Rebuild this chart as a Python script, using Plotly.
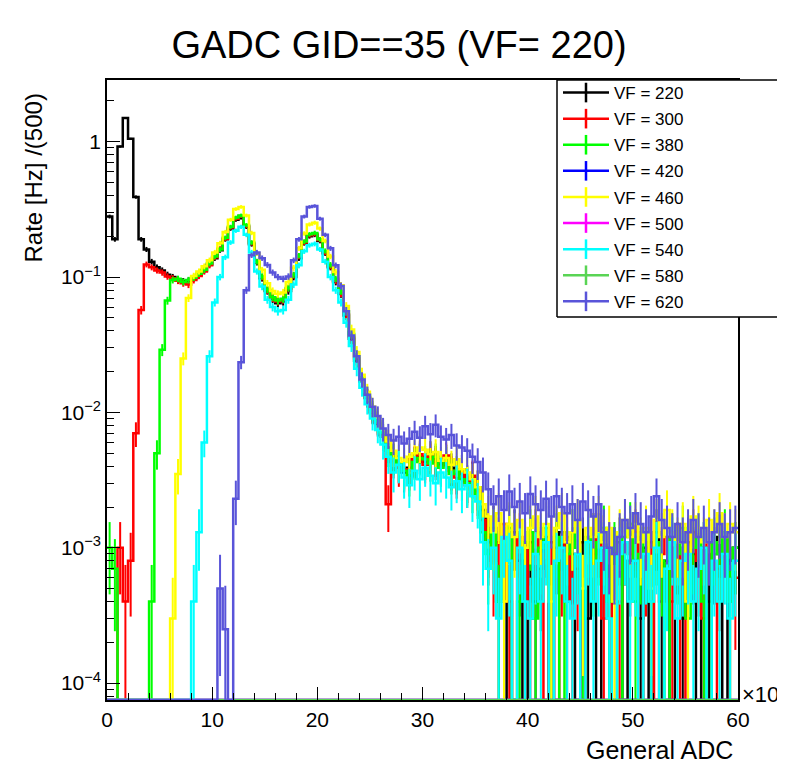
import math
import plotly.graph_objects as go

# ---------------- data (rate in Hz per 500-ADC bin; x in units of 10^3 ADC) ----------------
BIN_WIDTH = 0.5
N_BINS = 120
bin_edges = [i * BIN_WIDTH for i in range(N_BINS + 1)]
bin_centers = [(i + 0.5) * BIN_WIDTH for i in range(N_BINS)]

vf_labels = ["VF = 220", "VF = 300", "VF = 380", "VF = 420", "VF = 460",
             "VF = 500", "VF = 540", "VF = 580", "VF = 620"]

rate_vf220 = [
    0.28, 0.19, 0.92, 1.5, 1.05, 0.39, 0.19, 0.16, 0.13,
    0.118, 0.112, 0.104, 0.1, 0.096, 0.093, 0.094, 0.098, 0.104, 0.112, 0.124,
    0.138, 0.158, 0.19, 0.228, 0.265, 0.275, 0.235, 0.175, 0.128, 0.098,
    0.079, 0.069, 0.064, 0.066, 0.079, 0.1, 0.138, 0.178, 0.2, 0.205,
    0.185, 0.15, 0.118, 0.092, 0.075, 0.052, 0.035, 0.024, 0.017, 0.0128, 0.0099, 0.0082,
    0.0068, 0.0055, 0.0047, 0.0041, 0.0036, 0.0039, 0.0044, 0.0047, 0.0043, 0.0049,
    0.0045, 0.0041, 0.0046, 0.0039, 0.0035, 0.0038, 0.0031, 0.0033, 0.0028, 0.0019,
    0.0011, 0.0014, 0.0004, 0.0012, 0.0, 0.0013, 0.0008, 0.0, 0.0011, 0.0004,
    0.0007, 0.0012, 0.0, 0.0010, 0.0013, 0.0004, 0.0009, 0.0, 0.0011, 0.0003,
    0.0012, 0.0, 0.0010, 0.0004, 0.0009, 0.0011, 0.0, 0.0008, 0.0012, 0.0003,
    0.0010, 0.0, 0.0013, 0.0004, 0.0008, 0.0, 0.0010, 0.0003, 0.0011, 0.0009,
    0.0, 0.0010, 0.0004, 0.0009, 0.0012, 0.0, 0.0008, 0.0010,
]

rate_vf300 = [
    0.0, 0.0, 0.001, 0.0004, 0.0008, 0.007, 0.057,
    0.124, 0.118, 0.112, 0.108, 0.101, 0.098, 0.094, 0.09, 0.088, 0.095, 0.102, 0.11, 0.122,
    0.14, 0.162, 0.192, 0.232, 0.27, 0.282, 0.238, 0.178, 0.13, 0.1,
    0.08, 0.07, 0.066, 0.068, 0.082, 0.103, 0.142, 0.18, 0.204, 0.208,
    0.188, 0.152, 0.12, 0.094, 0.076, 0.053, 0.036, 0.025, 0.0172, 0.013, 0.0101, 0.0084,
    0.0066, 0.0021, 0.0044, 0.0039, 0.0038, 0.0037, 0.0045, 0.0049, 0.0041, 0.0047,
    0.0043, 0.0040, 0.0048, 0.0037, 0.0033, 0.0036, 0.0029, 0.0034, 0.0026, 0.0016,
    0.0012, 0.0008, 0.0011, 0.0015, 0.0004, 0.0, 0.0012, 0.0010, 0.0003, 0.0013,
    0.0009, 0.0, 0.0011, 0.0, 0.0008, 0.0012, 0.0004, 0.0007, 0.0, 0.0011,
    0.0009, 0.0012, 0.0003, 0.0010, 0.0, 0.0004, 0.0011, 0.0009, 0.0013, 0.0,
    0.0008, 0.0011, 0.0, 0.0009, 0.0012, 0.0004, 0.0010, 0.0, 0.0009, 0.0013,
    0.0008, 0.0003, 0.0011, 0.0, 0.0007, 0.0012, 0.0004, 0.0006,
]

rate_vf380 = [
    0.001, 0.0007, 0.0, 0.0, 0.0, 0.0, 0.0, 0.0, 0.0004, 0.005, 0.029, 0.067, 0.095,
    0.097, 0.092, 0.095, 0.099, 0.106, 0.113, 0.126,
    0.142, 0.16, 0.195, 0.235, 0.275, 0.285, 0.242, 0.18, 0.13, 0.101,
    0.081, 0.071, 0.067, 0.069, 0.083, 0.104, 0.144, 0.183, 0.207, 0.212,
    0.19, 0.156, 0.123, 0.097, 0.079, 0.056, 0.038, 0.026, 0.018, 0.0135, 0.0104, 0.0086,
    0.0071, 0.0052, 0.0046, 0.0042, 0.0037, 0.0034, 0.0043, 0.0046, 0.0045, 0.0042,
    0.0047, 0.0039, 0.0044, 0.0035, 0.0037, 0.0032, 0.0030, 0.0027, 0.0025, 0.0013,
    0.0009, 0.0013, 0.0004, 0.0011, 0.0014, 0.0, 0.0004, 0.0011, 0.0013, 0.0003,
    0.0010, 0.0014, 0.0004, 0.0012, 0.0, 0.0009, 0.0013, 0.0010, 0.0003, 0.0012,
    0.0008, 0.0011, 0.0014, 0.0004, 0.0010, 0.0, 0.0012, 0.0015, 0.0004, 0.0009,
    0.0013, 0.0004, 0.0011, 0.0008, 0.0, 0.0012, 0.0009, 0.0014, 0.0003, 0.0010,
    0.0012, 0.0004, 0.0, 0.0011, 0.0009, 0.0013, 0.0004, 0.0010,
]

rate_vf420 = [0.0] * N_BINS   # empty histogram

rate_vf460 = [
    0.0, 0.0, 0.0, 0.0, 0.0, 0.0, 0.0, 0.0, 0.0, 0.0, 0.0, 0.0,
    0.0003, 0.0035, 0.025, 0.07, 0.102, 0.11, 0.12, 0.133,
    0.152, 0.178, 0.215, 0.265, 0.318, 0.33, 0.285, 0.212, 0.15, 0.113,
    0.09, 0.079, 0.075, 0.077, 0.092, 0.117, 0.163, 0.21, 0.245, 0.252,
    0.228, 0.185, 0.142, 0.109, 0.087, 0.061, 0.041, 0.028, 0.019, 0.0142, 0.011, 0.0091,
    0.0074, 0.0061, 0.0052, 0.0046, 0.0043, 0.0047, 0.0050, 0.0055, 0.0053, 0.0049,
    0.0051, 0.0044, 0.0046, 0.0041, 0.0045, 0.0038, 0.0036, 0.0032, 0.0028, 0.0021,
    0.0017, 0.0013, 0.0018, 0.0004, 0.0015, 0.0012, 0.0016, 0.0010, 0.0014, 0.0017,
    0.0012, 0.0015, 0.0004, 0.0014, 0.0018, 0.0011, 0.0013, 0.0016, 0.0005, 0.0014,
    0.0012, 0.0017, 0.0011, 0.0014, 0.0004, 0.0013, 0.0016, 0.0012, 0.0015, 0.0011,
    0.0014, 0.0005, 0.0016, 0.0012, 0.0019, 0.0013, 0.0011, 0.0015, 0.0004, 0.0017,
    0.0014, 0.0011, 0.0016, 0.0013, 0.0018, 0.0012, 0.0015, 0.0013,
]

rate_vf500 = [0.0] * N_BINS   # empty histogram

rate_vf540 = [
    0.0, 0.0, 0.0, 0.0, 0.0, 0.0, 0.0, 0.0, 0.0, 0.0, 0.0, 0.0, 0.0, 0.0, 0.0, 0.0,
    0.0004, 0.0013, 0.006, 0.026,
    0.065, 0.1, 0.14, 0.18, 0.22, 0.235, 0.205, 0.152, 0.11, 0.085,
    0.068, 0.06, 0.056, 0.057, 0.068, 0.088, 0.122, 0.155, 0.172, 0.176,
    0.16, 0.13, 0.1, 0.08, 0.065, 0.046, 0.031, 0.021, 0.0152, 0.0115, 0.009, 0.0074,
    0.0058, 0.0047, 0.0036, 0.0041, 0.0033, 0.0029, 0.0037, 0.0032, 0.0039, 0.0034,
    0.0030, 0.0036, 0.0033, 0.0028, 0.0031, 0.0027, 0.0029, 0.0024, 0.0022, 0.0011,
    0.0007, 0.0010, 0.0003, 0.0012, 0.0008, 0.0, 0.0010, 0.0004, 0.0003, 0.0009,
    0.0004, 0.0011, 0.0, 0.0008, 0.0010, 0.0004, 0.0003, 0.0009, 0.0, 0.0011,
    0.0004, 0.0008, 0.0010, 0.0003, 0.0, 0.0009, 0.0011, 0.0004, 0.0008, 0.0,
    0.0009, 0.0004, 0.0010, 0.0, 0.0007, 0.0011, 0.0003, 0.0008, 0.0009, 0.0004,
    0.0007, 0.0010, 0.0, 0.0008, 0.0004, 0.0009, 0.0003, 0.0008,
]

rate_vf580 = [0.0] * N_BINS   # empty histogram

rate_vf620 = [
    0.0, 0.0, 0.0, 0.0, 0.0, 0.0, 0.0, 0.0, 0.0, 0.0,
    0.0, 0.0, 0.0, 0.0, 0.0, 0.0, 0.0, 0.0, 0.0, 0.0, 0.0,
    0.0005, 0.00025, 0.0, 0.0023, 0.0235, 0.08, 0.145, 0.152, 0.138,
    0.123, 0.108, 0.1, 0.097, 0.101, 0.133, 0.19, 0.28, 0.33, 0.335,
    0.27, 0.205, 0.163, 0.122, 0.086, 0.056, 0.037, 0.026, 0.0175, 0.0135, 0.011, 0.0094,
    0.0076, 0.0068, 0.0062, 0.0066, 0.0059, 0.0064, 0.0072, 0.0065, 0.0079, 0.0069,
    0.0081, 0.0066, 0.0063, 0.0068, 0.0057, 0.0055, 0.0052, 0.0047, 0.0043, 0.0036,
    0.0027, 0.0021, 0.0024, 0.0019, 0.0026, 0.0020, 0.0022, 0.0018, 0.0025, 0.0021,
    0.0019, 0.0023, 0.0017, 0.0024, 0.0020, 0.0018, 0.0021, 0.0016, 0.0022, 0.0019,
    0.0017, 0.0021, 0.0013, 0.0010, 0.0009, 0.0012, 0.0016, 0.0014, 0.0018, 0.0015,
    0.0013, 0.0017, 0.0024, 0.0016, 0.0014, 0.0012, 0.0015, 0.0011, 0.0013, 0.0016,
    0.0012, 0.0014, 0.0011, 0.0013, 0.0015, 0.0012, 0.0013, 0.0014,
]

series = [rate_vf220, rate_vf300, rate_vf380, rate_vf420, rate_vf460,
          rate_vf500, rate_vf540, rate_vf580, rate_vf620]
for s in series:
    assert len(s) == N_BINS, len(s)

# ROOT colour indices 1..9
colors = ["#000000", "#ff0000", "#00ff00", "#0000ff", "#ffff00",
          "#ff00ff", "#00ffff", "#59d454", "#5954d9"]

RATE_PER_COUNT = 3e-4          # Poisson error scale
Y_LOG_MIN, Y_LOG_MAX = -4.125, 0.456
Y_FLOOR = 10 ** Y_LOG_MIN      # empty bins are drawn on the frame bottom (ROOT style)

# ---------------- geometry (page pixels; the html body adds an 8 px margin) ----------------
OFF = 8
W, H = 785 - 2 * OFF, 769 - 2 * OFF      # figure fits inside the page body
PL, PR, PT, PB = 107 - OFF, 738 - OFF, 80 - OFF, 700 - OFF   # plot frame in figure px
PW, PH = PR - PL, PB - PT


def px(xp):   # page x -> paper x
    return (xp - OFF - PL) / PW


def py(yp):   # page y -> paper y
    return (PB - (yp - OFF)) / PH


fig = go.Figure()
for lab, vals, col in zip(vf_labels, series, colors):
    ys = [v if v > 0 else Y_FLOOR for v in vals]
    fig.add_trace(go.Scatter(
        x=bin_edges, y=ys + [ys[-1]], mode="lines", line_shape="hv",
        line=dict(color=col, width=2.5), showlegend=False, hoverinfo="skip"))
    ex, ey, ep, em = [], [], [], []
    for c, v in zip(bin_centers, vals):
        if v > 0:
            e = math.sqrt(v * RATE_PER_COUNT)
            ex.append(c); ey.append(v); ep.append(e); em.append(min(e, v * 0.9999))
    if ex:
        fig.add_trace(go.Scatter(
            x=ex, y=ey, mode="markers", marker=dict(size=0.1, color=col),
            error_y=dict(type="data", array=ep, arrayminus=em, width=0,
                         thickness=2, color=col),
            showlegend=False, hoverinfo="skip"))

# legend entries (line + vertical error-bar cross)
for i, (lab, col) in enumerate(zip(vf_labels, colors)):
    fig.add_trace(go.Scatter(
        x=[None], y=[None], mode="lines+markers", name=lab,
        line=dict(color=col, width=2.5),
        marker=dict(symbol="line-ns", size=14, line=dict(color=col, width=2.5)),
        legendgroup=f"g{i}"))

FONT = "Liberation Sans, Arial, Helvetica, sans-serif"

minor_y = []
for d in range(-5, 1):
    for k in range(2, 10):
        minor_y.append(k * 10 ** d)

LEG_L, LEG_T, LEG_B, LEG_R = px(557), 1.0, py(317), px(800)

fig.update_layout(
    width=W, height=H,
    margin=dict(l=PL, r=W - PR, t=PT, b=H - PB, autoexpand=False),
    paper_bgcolor="white", plot_bgcolor="white",
    font=dict(family=FONT, color="black"),
    title=dict(text="GADC GID==35 (VF= 220)", x=(399 - OFF) / W, xanchor="center",
               y=1 - (45 - OFF) / H, yanchor="middle", yref="container",
               font=dict(size=38, family=FONT, color="black")),
    showlegend=True,
    legend=dict(x=px(558), y=py(75), xanchor="left", yanchor="top",
                bgcolor="rgba(0,0,0,0)", borderwidth=0,
                font=dict(size=17, family=FONT, color="black"),
                tracegroupgap=1, itemwidth=46),
    xaxis=dict(range=[0, 60], tickmode="array", tickvals=[0, 10, 20, 30, 40, 50, 60],
               ticks="inside", ticklen=13, tickwidth=1, tickcolor="black",
               showline=True, linecolor="black", linewidth=1.5, mirror=True,
               showgrid=False, zeroline=False,
               tickfont=dict(size=21, family=FONT, color="black"),
               minor=dict(tickmode="array", tickvals=[v for v in range(0, 61, 2) if v % 10],
                          ticks="inside", ticklen=7, tickcolor="black", showgrid=False)),
    yaxis=dict(type="log", range=[Y_LOG_MIN, Y_LOG_MAX], tickmode="array",
               tickvals=[1e-4, 1e-3, 1e-2, 1e-1, 1],
               ticktext=["10<sup>−4</sup>", "10<sup>−3</sup>", "10<sup>−2</sup>",
                         "10<sup>−1</sup>", "1"],
               ticks="inside", ticklen=13, tickwidth=1, tickcolor="black",
               showline=True, linecolor="black", linewidth=1.5, mirror=True,
               showgrid=False, zeroline=False,
               tickfont=dict(size=21, family=FONT, color="black"),
               minor=dict(tickmode="array", tickvals=minor_y,
                          ticks="inside", ticklen=7, tickcolor="black", showgrid=False)),
    shapes=[
        dict(type="rect", xref="paper", yref="paper",
             x0=LEG_L, x1=LEG_R, y0=LEG_B, y1=LEG_T,
             fillcolor="white", line=dict(width=0), layer="above"),
        dict(type="line", xref="paper", yref="paper", x0=LEG_L, x1=LEG_R, y0=LEG_T, y1=LEG_T,
             line=dict(color="black", width=1.5), layer="above"),
        dict(type="line", xref="paper", yref="paper", x0=LEG_L, x1=LEG_R, y0=LEG_B, y1=LEG_B,
             line=dict(color="black", width=1.5), layer="above"),
        dict(type="line", xref="paper", yref="paper", x0=LEG_L, x1=LEG_L, y0=LEG_B, y1=LEG_T,
             line=dict(color="black", width=1.5), layer="above"),
    ],
    annotations=[
        dict(text="Rate [Hz] /(500)", textangle=-90, xref="paper", yref="paper",
             x=px(33), y=py(92), xanchor="center", yanchor="top",
             showarrow=False, font=dict(size=24, family=FONT, color="black")),
        dict(text="General ADC", xref="paper", yref="paper",
             x=px(735), y=py(750), xanchor="right", yanchor="middle",
             showarrow=False, font=dict(size=25, family=FONT, color="black")),
        dict(text="×10<sup>3</sup>", xref="paper", yref="paper",
             x=1.0, y=0, xanchor="left", yanchor="middle", xshift=2, yshift=7,
             showarrow=False, font=dict(size=22, family=FONT, color="black")),
    ],
)

fig.write_html("out.html")
